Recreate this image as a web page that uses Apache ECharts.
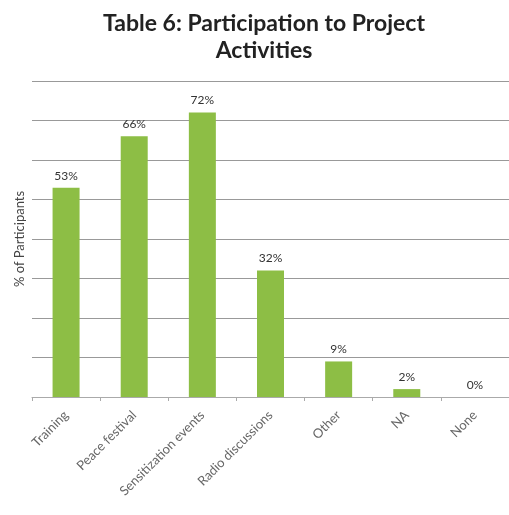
<!DOCTYPE html>
<html>
<head>
<meta charset="utf-8">
<script src="https://cdn.jsdelivr.net/npm/echarts@6/dist/echarts.min.js"></script>
<style>html,body{margin:0;padding:0;background:#fff}#c{width:509px;height:515px}</style>
</head>
<body>
<div id="c"></div>
<script>
var titleText = "Table 6: Participation to Project\nActivities";
var categories = ["Training", "Peace festival", "Sensitization events", "Radio discussions", "Other", "NA", "None"];
var values = [53, 66, 72, 32, 9, 2, 0];
var yAxisName = "% of Participants";

var chart = echarts.init(document.getElementById('c'));
chart.setOption({
  animation: false,
  backgroundColor: '#fff',
  title: {
    text: titleText,
    left: 259, textAlign: 'center', top: 5,
    textStyle: { fontFamily: 'Lato', fontWeight: 'bold', fontSize: 23, color: '#222', lineHeight: 27 }
  },
  grid: { left: 32, right: -3, top: 81, bottom: 118 },
  xAxis: {
    type: 'category',
    data: categories,
    axisLine: { lineStyle: { color: '#aaa', width: 1 } },
    axisTick: { show: true, length: 4, lineStyle: { color: '#aaa' } },
    axisLabel: { rotate: 45, color: '#666', fontFamily: 'Lato', fontSize: 13, margin: 16, interval: 0 }
  },
  yAxis: {
    type: 'value', min: 0, max: 80, interval: 10,
    name: yAxisName, nameLocation: 'middle', nameGap: 6, nameRotate: 90,
    nameTextStyle: { color: '#444', fontFamily: 'Lato', fontSize: 13 },
    axisLabel: { show: false },
    axisLine: { show: false }, axisTick: { show: false },
    splitLine: { lineStyle: { color: '#999', width: 1.2 } }
  },
  series: [{
    type: 'bar',
    data: values,
    barWidth: 27,
    itemStyle: { color: '#8DBE45' },
    label: {
      show: true, position: 'top', distance: 6,
      formatter: function (p) { return p.value + '%'; },
      color: '#333', fontFamily: 'Lato', fontSize: 12
    }
  }]
});
</script>
</body>
</html>
